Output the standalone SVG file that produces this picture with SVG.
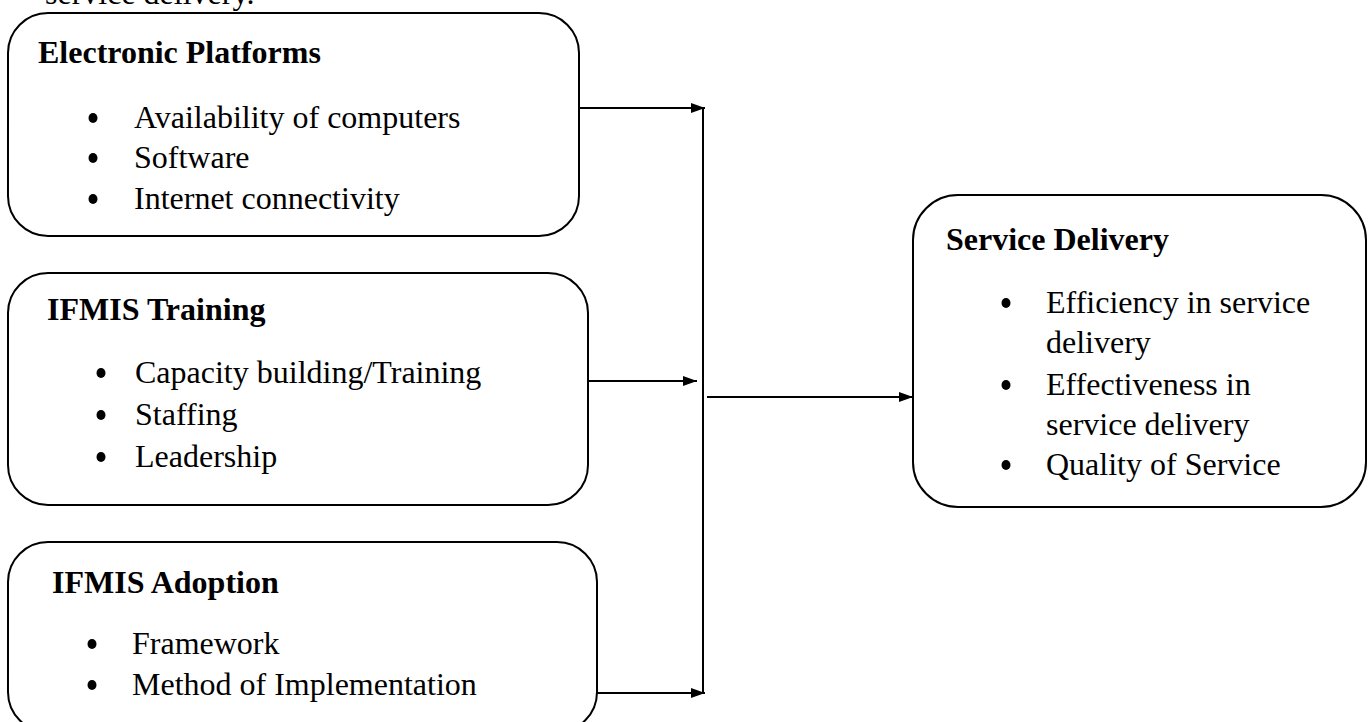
<svg xmlns="http://www.w3.org/2000/svg" width="1371" height="722" viewBox="0 0 1371 722">
<defs>
<marker id="ah" markerWidth="14" markerHeight="10" refX="14" refY="5" orient="auto" markerUnits="userSpaceOnUse">
<path d="M0,0 L14,5 L0,10 z" fill="#000"/>
</marker>
<style>
.box{fill:#fff;stroke:#000;stroke-width:2}
.h{font-family:"Liberation Serif","Times New Roman",serif;font-weight:bold;font-size:32px;fill:#000}
.t{font-family:"Liberation Serif","Times New Roman",serif;font-size:32px;fill:#000}
.b{fill:#000}
.c{stroke:#000;stroke-width:2;fill:none}
</style>
</defs>
<rect width="1371" height="722" fill="#fff"/>
<text class="t" x="45" y="4">service delivery.</text>
<g id="connectors">
<line class="c" x1="580" y1="108" x2="705" y2="108" marker-end="url(#ah)"/>
<line class="c" x1="703" y1="108" x2="703" y2="693"/>
<line class="c" x1="588" y1="381" x2="697" y2="381" marker-end="url(#ah)"/>
<line class="c" x1="597" y1="693" x2="705" y2="693" marker-end="url(#ah)"/>
<line class="c" x1="707" y1="397" x2="913" y2="397" marker-end="url(#ah)"/>
</g>
<g id="electronic-platforms">
<rect class="box" x="8" y="13" width="571" height="223" rx="40" ry="40"/>
<text class="h" x="38" y="63">Electronic Platforms</text>
<ellipse class="b" cx="93" cy="118" rx="4.5" ry="5"/>
<text class="t" x="134" y="128">Availability of computers</text>
<ellipse class="b" cx="93" cy="158" rx="4.5" ry="5"/>
<text class="t" x="134" y="168">Software</text>
<ellipse class="b" cx="93" cy="199" rx="4.5" ry="5"/>
<text class="t" x="134" y="209">Internet connectivity</text>
</g>
<g id="ifmis-training">
<rect class="box" x="8" y="273" width="580" height="232" rx="40" ry="40"/>
<text class="h" x="47" y="320">IFMIS Training</text>
<ellipse class="b" cx="101" cy="373" rx="4.5" ry="5"/>
<text class="t" x="135" y="383">Capacity building/Training</text>
<ellipse class="b" cx="101" cy="415" rx="4.5" ry="5"/>
<text class="t" x="135" y="425">Staffing</text>
<ellipse class="b" cx="101" cy="457" rx="4.5" ry="5"/>
<text class="t" x="135" y="467">Leadership</text>
</g>
<g id="ifmis-adoption">
<rect class="box" x="8" y="542" width="589" height="190" rx="40" ry="40"/>
<text class="h" x="52" y="593">IFMIS Adoption</text>
<ellipse class="b" cx="92" cy="644" rx="4.5" ry="5"/>
<text class="t" x="132" y="654">Framework</text>
<ellipse class="b" cx="92" cy="685" rx="4.5" ry="5"/>
<text class="t" x="132" y="695">Method of Implementation</text>
</g>
<g id="service-delivery">
<rect class="box" x="913" y="195" width="453" height="312" rx="45" ry="45"/>
<text class="h" x="946" y="250">Service Delivery</text>
<ellipse class="b" cx="1006" cy="303" rx="4.5" ry="5"/>
<text class="t" x="1046" y="313">Efficiency in service</text>
<text class="t" x="1046" y="353">delivery</text>
<ellipse class="b" cx="1006" cy="385" rx="4.5" ry="5"/>
<text class="t" x="1046" y="395">Effectiveness in</text>
<text class="t" x="1046" y="435">service delivery</text>
<ellipse class="b" cx="1006" cy="465" rx="4.5" ry="5"/>
<text class="t" x="1046" y="475">Quality of Service</text>
</g>
</svg>
